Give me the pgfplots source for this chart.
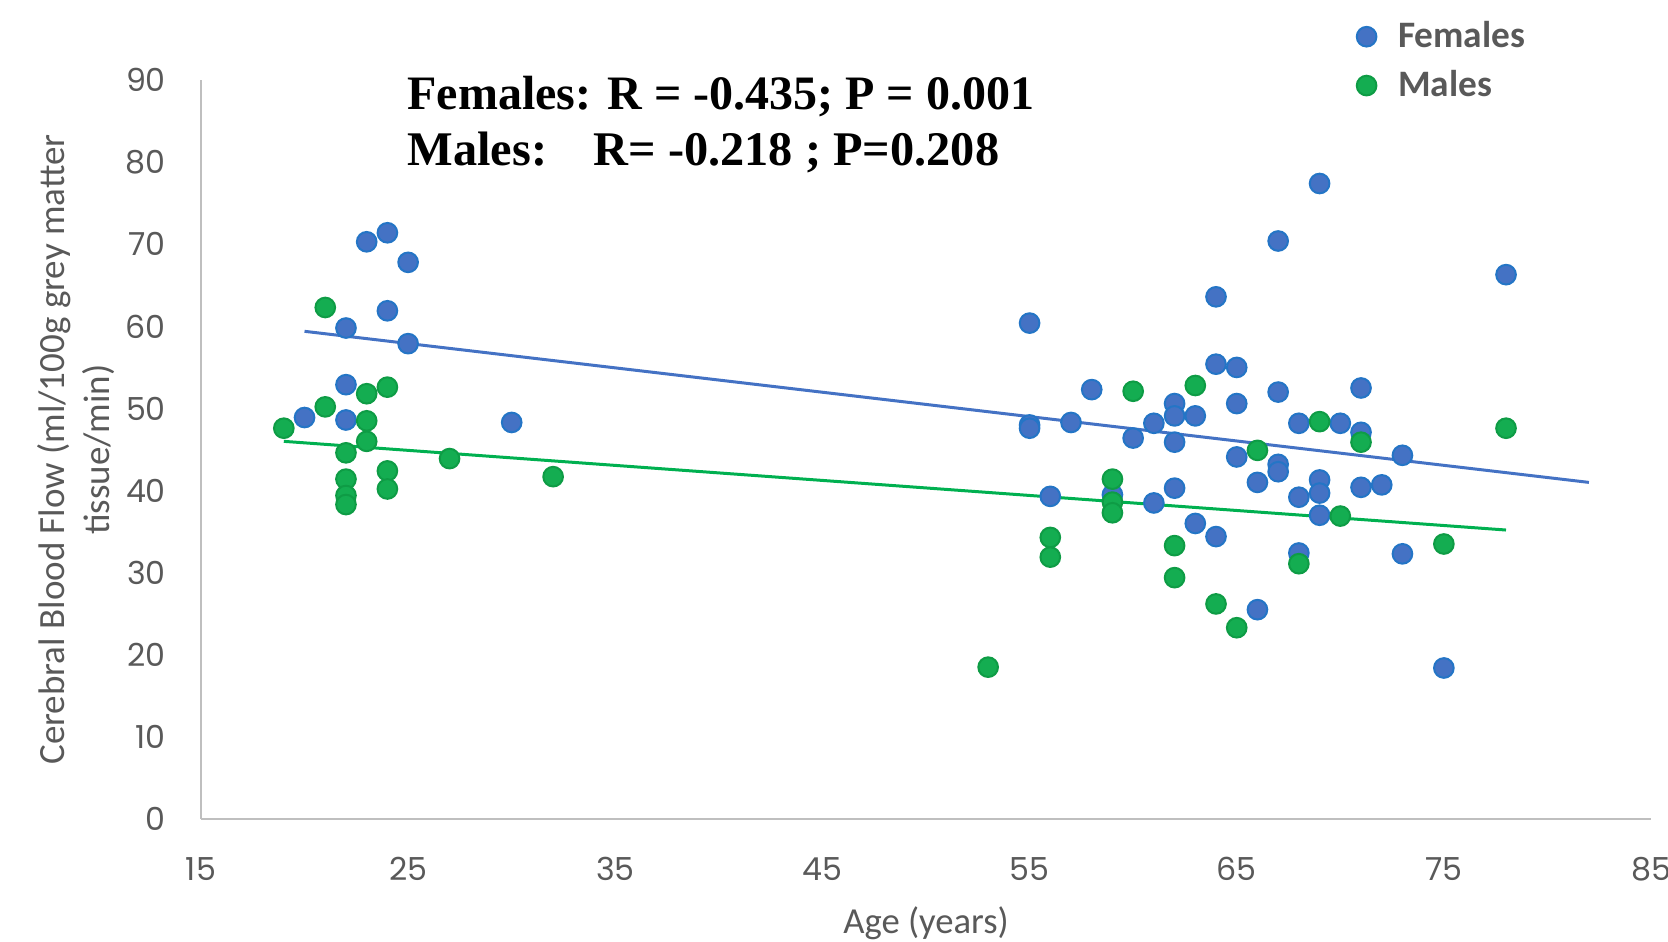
\documentclass[border=0pt]{standalone}
\usepackage{pgfplots}
\pgfplotsset{compat=1.18}
\usepackage{fontspec}
\setmainfont{Carlito}
\newfontfamily\tickfont{Poppins}
\newfontfamily\timesfont{Liberation Serif}

\definecolor{fem}{HTML}{4472C4}
\definecolor{femedge}{HTML}{2475C6}
\definecolor{mal}{HTML}{14AD51}
\definecolor{maledge}{HTML}{0E9C45}
\definecolor{femline}{HTML}{4472C4}
\definecolor{malline}{HTML}{00B050}
\definecolor{axgray}{HTML}{BFBFBF}
\definecolor{txtgray}{HTML}{595959}

% age (years), CBF (ml/100g/min)
\pgfplotstableread{
age cbf
20 48.9
22 59.8
22 52.9
22 48.6
23 70.3
24 71.4
24 61.9
25 67.8
25 57.9
30 48.3
55 60.4
55 48.0
55 47.6
56 39.3
57 48.3
58 52.3
59 39.5
60 46.4
61 48.2
61 38.5
62 50.6
62 49.1
62 45.9
62 40.3
63 49.1
63 36.0
64 63.6
64 55.4
64 34.4
65 55.0
65 50.6
65 44.1
66 41.0
66 25.5
67 70.4
67 52.0
67 43.2
67 42.3
68 48.2
68 39.2
68 32.4
69 77.4
69 41.3
69 39.7
69 37.0
70 48.2
71 52.5
71 47.1
71 40.4
72 40.7
73 44.3
73 32.3
75 18.4
78 66.3
}\females

\pgfplotstableread{
age cbf
19 47.6
21 62.3
21 50.2
22 44.6
22 41.4
22 39.4
22 38.3
23 51.8
23 48.5
23 46.0
24 52.6
24 42.4
24 40.2
27 43.9
32 41.7
53 18.5
56 34.3
56 31.9
59 41.4
59 38.6
59 37.3
60 52.1
62 33.3
62 29.4
63 52.8
64 26.2
65 23.3
66 44.9
68 31.1
69 48.4
70 36.9
71 45.9
75 33.5
78 47.6
}\males

\begin{document}
\begin{tikzpicture}
\begin{axis}[
  scale only axis, width=435pt, height=221.7pt,
  xmin=15, xmax=85, ymin=0, ymax=90,
  enlargelimits=false, clip=false,
  xtick={15,25,...,85}, ytick={0,10,...,90},
  axis x line=bottom, axis y line=left,
  axis line style={draw=axgray, line width=0.6pt, -},
  major tick length=0pt,
  tick label style={font=\tickfont\fontsize{9.5}{11}\selectfont, text=txtgray,
    /pgf/number format/assume math mode=true},
  xticklabel style={yshift=-8pt},
  yticklabel style={xshift=-7pt},
  xlabel={Age (years)},
  ylabel={Cerebral Blood Flow (ml/100g grey matter\\tissue/min)},
  every axis x label/.style={at={(rel axis cs:0.5,0)}, anchor=north, yshift=-22.6pt,
    font=\fontsize{11}{13.7}\selectfont, text=txtgray},
  every axis y label/.style={at={(rel axis cs:-0.0862,0.5)}, rotate=90, anchor=center,
    align=center, font=\fontsize{11.1}{13.7}\selectfont, text=txtgray},
  legend style={draw=none, fill=none, font=\bfseries\fontsize{11.2}{13}\selectfont,
    text=txtgray, at={(rel axis cs:0.7897,1.0987)}, anchor=north west,
    row sep=1.3pt, /tikz/every odd column/.append style={column sep=4.5pt}},
  legend cell align=left,
]
\addplot[only marks, mark=*, mark size=2.95pt, mark options={fill=fem, draw=femedge, line width=0.6pt}]
  table[x=age, y=cbf] {\females};
\addlegendentry{Females}
\addplot[only marks, mark=*, mark size=2.95pt, mark options={fill=mal, draw=maledge, line width=0.6pt}]
  table[x=age, y=cbf] {\males};
\addlegendentry{Males}

% Excel linear trend lines
\addplot[forget plot, femline, line width=0.9pt] coordinates {(20,59.4) (82,41.0)};
\addplot[forget plot, malline, line width=0.9pt] coordinates {(19,46.0) (78,35.2)};

\node[anchor=base west, inner sep=0pt, font=\timesfont\bfseries\fontsize{14.4}{16}\selectfont]
  at (rel axis cs:0.142,0.96) {Females: R = -0.435; P = 0.001};
\node[anchor=base west, inner sep=0pt, font=\timesfont\bfseries\fontsize{14.5}{16}\selectfont]
  at (rel axis cs:0.142,0.885) {Males:\hspace{14pt}R= -0.218 ; P=0.208};

\coordinate (bbsw) at (rel axis cs:-0.1386,-0.1651);
\coordinate (bbne) at (rel axis cs:1.0117,1.1083);
\end{axis}
\pgfresetboundingbox
\path (bbsw) rectangle (bbne);
\end{tikzpicture}
\end{document}
